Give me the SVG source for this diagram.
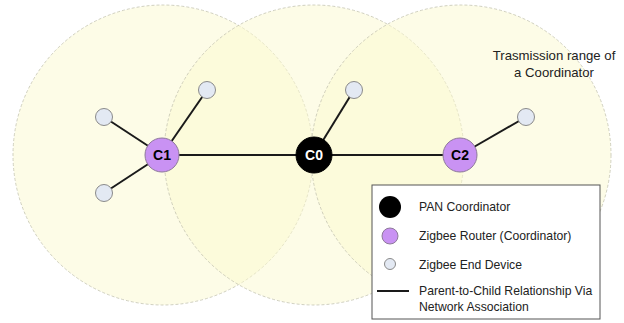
<svg xmlns="http://www.w3.org/2000/svg" width="624" height="323" viewBox="0 0 624 323">
<style>
.range{fill:#fbf9cf;fill-opacity:0.5;stroke:#c4c4b0;stroke-width:0.8;stroke-dasharray:3 2}
.edge{stroke:#1a1a1a;stroke-width:2;fill:none}
.router{fill:#c992f3;stroke:#8e7a9a;stroke-width:1}
.pan{fill:#000;stroke:#000}
.end{fill:#e3e9f3;stroke:#8a8a8a;stroke-width:1}
.lbl{font-family:"Liberation Sans",Arial,sans-serif;font-weight:bold;font-size:14px;text-anchor:middle}
.txt{font-family:"Liberation Sans",Arial,sans-serif;font-size:12.2px;fill:#222}
</style>
<rect width="624" height="323" fill="#fff"/>
<g id="ranges">
<circle class="range" cx="163" cy="155" r="150"/>
<circle class="range" cx="314" cy="155" r="150"/>
<circle class="range" cx="461" cy="155" r="150"/>
</g>
<g id="connectors">
<line class="edge" x1="162" y1="155" x2="314" y2="155"/>
<line class="edge" x1="314" y1="155" x2="460" y2="155"/>
<line class="edge" x1="162" y1="155" x2="104" y2="117"/>
<line class="edge" x1="162" y1="155" x2="104" y2="193"/>
<line class="edge" x1="162" y1="155" x2="207" y2="90"/>
<line class="edge" x1="314" y1="155" x2="354" y2="90"/>
<line class="edge" x1="460" y1="155" x2="526" y2="117"/>
</g>
<g id="e1"><circle class="end" cx="104" cy="117" r="8.5"/></g>
<g id="e2"><circle class="end" cx="104" cy="193" r="8.5"/></g>
<g id="e3"><circle class="end" cx="207" cy="90" r="8.5"/></g>
<g id="e4"><circle class="end" cx="354" cy="90" r="8.5"/></g>
<g id="e5"><circle class="end" cx="526" cy="117" r="8.5"/></g>
<g id="C1"><circle class="router" cx="162" cy="155" r="17"/><text class="lbl" x="162" y="160">C1</text></g>
<g id="C0"><circle class="pan" cx="314" cy="155" r="18"/><text class="lbl" x="314" y="160" fill="#fff">C0</text></g>
<g id="C2"><circle class="router" cx="460" cy="155" r="17"/><text class="lbl" x="460" y="160">C2</text></g>
<g id="range-label">
<text class="txt" x="554" y="60" text-anchor="middle" style="font-size:13.2px">Trasmission range of</text>
<text class="txt" x="554" y="77" text-anchor="middle" style="font-size:13.2px">a Coordinator</text>
</g>
<g id="legend">
<rect x="372" y="185" width="228" height="134" fill="#fff" stroke="#555" stroke-width="1"/>
<circle cx="390" cy="207" r="11" fill="#000"/>
<circle cx="390" cy="236" r="8" class="router"/>
<circle cx="390" cy="264" r="5.5" class="end"/>
<line x1="377" y1="291" x2="409" y2="291" class="edge"/>
<text class="txt" x="419" y="211">PAN Coordinator</text>
<text class="txt" x="419" y="240">Zigbee Router (Coordinator)</text>
<text class="txt" x="419" y="269">Zigbee End Device</text>
<text class="txt" x="419" y="295">Parent-to-Child Relationship Via</text>
<text class="txt" x="419" y="311">Network Association</text>
</g>
</svg>
